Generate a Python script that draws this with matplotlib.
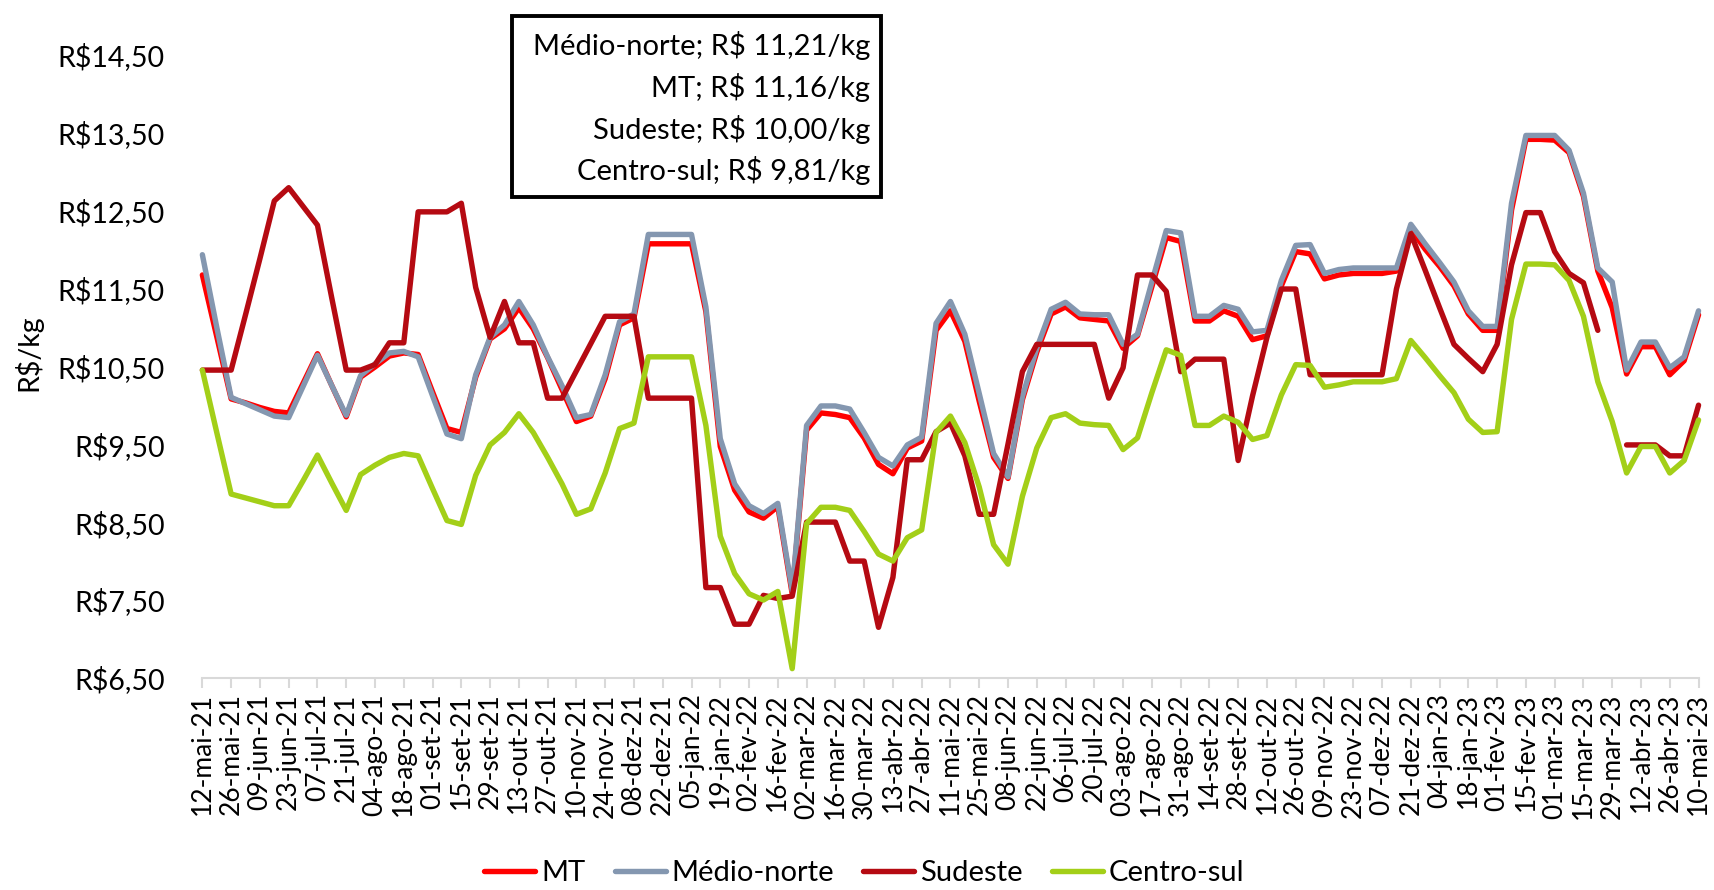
import numpy as np
import matplotlib
matplotlib.use("Agg")
import matplotlib.pyplot as plt
from matplotlib.patches import Rectangle

plt.rcParams["font.family"] = ["Lato", "DejaVu Sans"]

# --- data: weekly prices, R$/kg (12-mai-21 .. 10-mai-23) ---
mt = [11.67, 10.88, 10.08, 10.03, 9.97, 9.92, 9.90, 10.28, 10.66, 10.25,
      9.85, 10.36, 10.49, 10.63, 10.67, 10.65, 10.17, 9.70, 9.65, 10.36,
      10.85, 10.98, 11.25, 10.98, 10.61, 10.20, 9.79, 9.86, 10.34, 11.03,
      11.12, 12.07, 12.07, 12.07, 12.07, 11.20, 9.47, 8.91, 8.63, 8.55,
      8.70, 7.58, 9.68, 9.90, 9.88, 9.84, 9.58, 9.24, 9.12, 9.45,
      9.54, 10.96, 11.21, 10.82, 10.05, 9.33, 9.06, 10.07, 10.68, 11.17,
      11.26, 11.12, 11.10, 11.08, 10.73, 10.89, 11.52, 12.15, 12.10, 11.08,
      11.08, 11.21, 11.14, 10.84, 10.89, 11.53, 11.97, 11.94, 11.62, 11.67,
      11.69, 11.69, 11.69, 11.72, 12.26, 12.00, 11.78, 11.53, 11.17, 10.96,
      10.96, 12.50, 13.41, 13.41, 13.40, 13.24, 12.68, 11.72, 11.25, 10.40,
      10.75, 10.75, 10.39, 10.57, 11.16]

medio_norte = [11.93, 11.00, 10.10, 10.02, 9.94, 9.86, 9.84, 10.24, 10.64, 10.25,
               9.87, 10.38, 10.53, 10.67, 10.69, 10.62, 10.12, 9.63, 9.57, 10.39,
               10.87, 11.03, 11.33, 11.03, 10.62, 10.25, 9.84, 9.88, 10.39, 11.07,
               11.17, 12.19, 12.19, 12.19, 12.19, 11.26, 9.57, 8.99, 8.71, 8.61,
               8.74, 7.62, 9.74, 9.99, 9.99, 9.95, 9.65, 9.33, 9.22, 9.49,
               9.59, 11.05, 11.33, 10.91, 10.15, 9.38, 9.08, 10.11, 10.73, 11.23,
               11.32, 11.17, 11.16, 11.16, 10.78, 10.91, 11.58, 12.24, 12.21, 11.14,
               11.14, 11.28, 11.23, 10.94, 10.96, 11.60, 12.05, 12.06, 11.69, 11.74,
               11.76, 11.76, 11.76, 11.76, 12.32, 12.07, 11.83, 11.58, 11.21, 11.01,
               11.01, 12.59, 13.46, 13.46, 13.46, 13.27, 12.72, 11.76, 11.58, 10.45,
               10.81, 10.81, 10.48, 10.62, 11.21]

sudeste = [10.45, 10.45, 10.45, 11.16, 11.88, 12.62, 12.79, 12.55, 12.31, 11.37,
           10.45, 10.45, 10.52, 10.80, 10.80, 12.48, 12.48, 12.48, 12.59, 11.51,
           10.87, 11.33, 10.80, 10.80, 10.09, 10.09, 10.44, 10.79, 11.14, 11.14,
           11.14, 10.09, 10.09, 10.09, 10.09, 7.66, 7.66, 7.19, 7.19, 7.56,
           7.52, 7.55, 8.50, 8.50, 8.50, 8.00, 8.00, 7.15, 7.79, 9.30,
           9.30, 9.66, 9.77, 9.35, 8.60, 8.60, 9.50, 10.43, 10.78, 10.78,
           10.78, 10.78, 10.78, 10.09, 10.48, 11.67, 11.67, 11.46, 10.43, 10.59,
           10.59, 10.59, 9.29, 10.12, 10.87, 11.49, 11.49, 10.39, 10.39, 10.39,
           10.39, 10.39, 10.39, 11.49, 12.20, 11.73, 11.25, 10.78, 10.60, 10.43,
           10.78, 11.80, 12.47, 12.47, 11.97, 11.69, 11.57, 10.96, np.nan, 9.49,
           9.49, 9.49, 9.35, 9.35, 10.00]

centro_sul = [10.45, 9.65, 8.86, 8.81, 8.76, 8.71, 8.71, 9.03, 9.36, 9.00,
              8.65, 9.11, 9.23, 9.33, 9.38, 9.35, 8.93, 8.52, 8.47, 9.10,
              9.49, 9.65, 9.89, 9.65, 9.33, 8.99, 8.60, 8.67, 9.13, 9.70,
              9.77, 10.62, 10.62, 10.62, 10.62, 9.74, 8.32, 7.84, 7.58, 7.50,
              7.61, 6.62, 8.48, 8.69, 8.69, 8.65, 8.38, 8.09, 8.00, 8.30,
              8.40, 9.65, 9.86, 9.52, 8.95, 8.21, 7.96, 8.83, 9.45, 9.84,
              9.89, 9.77, 9.75, 9.74, 9.43, 9.58, 10.16, 10.71, 10.64, 9.74,
              9.74, 9.86, 9.78, 9.56, 9.61, 10.13, 10.52, 10.51, 10.23, 10.26,
              10.30, 10.30, 10.30, 10.34, 10.83, 10.61, 10.38, 10.16, 9.82, 9.65,
              9.66, 11.10, 11.81, 11.81, 11.80, 11.60, 11.14, 10.30, 9.79, 9.13,
              9.47, 9.47, 9.13, 9.29, 9.81]

date_labels = [
    "12-mai-21", "26-mai-21", "09-jun-21", "23-jun-21", "07-jul-21", "21-jul-21",
    "04-ago-21", "18-ago-21", "01-set-21", "15-set-21", "29-set-21", "13-out-21",
    "27-out-21", "10-nov-21", "24-nov-21", "08-dez-21", "22-dez-21", "05-jan-22",
    "19-jan-22", "02-fev-22", "16-fev-22", "02-mar-22", "16-mar-22", "30-mar-22",
    "13-abr-22", "27-abr-22", "11-mai-22", "25-mai-22", "08-jun-22", "22-jun-22",
    "06-jul-22", "20-jul-22", "03-ago-22", "17-ago-22", "31-ago-22", "14-set-22",
    "28-set-22", "12-out-22", "26-out-22", "09-nov-22", "23-nov-22", "07-dez-22",
    "21-dez-22", "04-jan-23", "18-jan-23", "01-fev-23", "15-fev-23", "01-mar-23",
    "15-mar-23", "29-mar-23", "12-abr-23", "26-abr-23", "10-mai-23",
]

y_ticks = [6.5, 7.5, 8.5, 9.5, 10.5, 11.5, 12.5, 13.5, 14.5]
y_labels = ["R$6,50", "R$7,50", "R$8,50", "R$9,50", "R$10,50",
            "R$11,50", "R$12,50", "R$13,50", "R$14,50"]

box_lines = ["Médio-norte; R$ 11,21/kg", "MT; R$ 11,16/kg",
             "Sudeste; R$ 10,00/kg", "Centro-sul; R$ 9,81/kg"]

series = [
    ("MT", mt, "#FF0000"),
    ("Médio-norte", medio_norte, "#8497B0"),
    ("Sudeste", sudeste, "#B50A12"),
    ("Centro-sul", centro_sul, "#A3CF18"),
]

# --- plot ---
fig = plt.figure(figsize=(17.15, 8.9), dpi=100)
ax = fig.add_axes([0.118, 0.2382, 0.8724, 0.7007])

weeks = np.arange(len(mt))
for name, vals, col in series:
    ax.plot(weeks, vals, color=col, lw=3.9, label=name, clip_on=False,
            solid_joinstyle="round", solid_capstyle="round")

ax.set_xlim(0, len(mt) - 1)
ax.set_ylim(6.5, 14.5)

ax.set_xticks(np.arange(0, len(mt), 2))
ax.set_xticklabels(date_labels, rotation=90, fontsize=19)
ax.set_yticks(y_ticks)
ax.set_yticklabels(y_labels, fontsize=20.5)

ax.tick_params(axis="x", direction="out", length=7, width=1.5,
               color="#D9D9D9", pad=4)
ax.tick_params(axis="y", length=0, pad=27)

for s in ["top", "right", "left"]:
    ax.spines[s].set_visible(False)
ax.spines["bottom"].set_color("#D9D9D9")
ax.spines["bottom"].set_linewidth(1.5)

fig.text(0.016, 0.604, "R$/kg", rotation=90, ha="center", va="center",
         fontsize=20.5)

# summary box with last prices
fig.patches.append(Rectangle((0.2985, 0.7787), 0.2150, 0.2033,
                             transform=fig.transFigure, fill=False,
                             edgecolor="black", lw=2.8))
for k, txt in enumerate(box_lines):
    fig.text(0.5075, 0.949 - k * 0.0470, txt, ha="right", va="center",
             fontsize=21)

fig.legend(loc="center", bbox_to_anchor=(0.504, 0.019), ncol=4,
           frameon=False, fontsize=21, handlelength=1.75,
           handletextpad=0.2, columnspacing=1.0)

fig.savefig("out.png", dpi=100)
